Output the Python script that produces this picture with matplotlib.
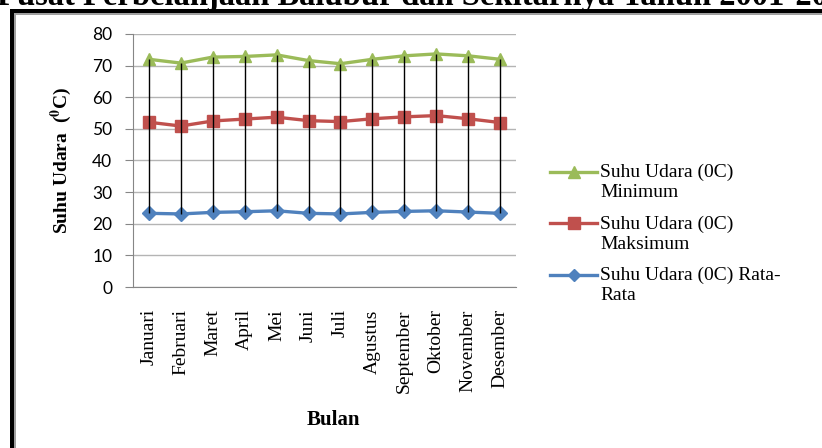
import matplotlib
matplotlib.use('Agg')
import matplotlib.pyplot as plt
from matplotlib.lines import Line2D
from matplotlib.patches import Rectangle

plt.rcParams['mathtext.fontset'] = 'stix'

# bulan dan suhu udara (nilai kumulatif seperti pada grafik garis bertumpuk)
bulan = ['Januari', 'Februari', 'Maret', 'April', 'Mei', 'Juni', 'Juli',
         'Agustus', 'September', 'Oktober', 'November', 'Desember']
rata_rata = [23.3, 23.1, 23.6, 23.8, 24.1, 23.3, 23.1, 23.6, 23.9, 24.1, 23.7, 23.3]
maksimum = [52.1, 50.9, 52.5, 53.1, 53.7, 52.6, 52.3, 53.2, 53.8, 54.2, 53.2, 52.0]
minimum = [72.0, 70.8, 72.7, 72.9, 73.4, 71.6, 70.6, 72.0, 73.1, 73.7, 73.1, 72.0]
y_ticks = [0, 10, 20, 30, 40, 50, 60, 70, 80]
legend_labels = [('Suhu Udara (0C)', 'Minimum'),
                 ('Suhu Udara (0C)', 'Maksimum'),
                 ('Suhu Udara (0C) Rata-', 'Rata')]

W, H = 822, 448
fig = plt.figure(figsize=(W / 100, H / 100), dpi=100)


def px(x, y):
    # piksel dari kiri-atas -> koordinat figure
    return x / W, (H - y) / H


# bingkai halaman
fig.add_artist(Rectangle((10 / W, -0.1), 4 / W, (H - 9) / H + 0.1, transform=fig.transFigure,
                         color='black', lw=0))
fig.add_artist(Rectangle((14 / W, -0.1), 2 / W, (H - 13) / H + 0.1, transform=fig.transFigure,
                         color='#a0a0a0', lw=0))
fig.add_artist(Rectangle((10 / W, (H - 13) / H), 1.1, 4 / H, transform=fig.transFigure,
                         color='black', lw=0))
fig.add_artist(Rectangle((14 / W, (H - 15) / H), 1.1, 2 / H, transform=fig.transFigure,
                         color='#a0a0a0', lw=0))

fig.text(*px(-3, 5), 'Pusat Perbelanjaan Balubur dan Sekitarnya Tahun 2001-2010',
         family='Liberation Serif', weight='bold', size=23.5, ha='left', va='baseline')

ax = fig.add_axes([133 / W, (H - 287) / H, 383 / W, 253 / H])
x = range(len(bulan))

garis = []
garis.append(ax.plot(x, minimum, color='#9BBB59', lw=2.4, marker='^', ms=9, zorder=3)[0])
garis.append(ax.plot(x, maksimum, color='#C0504D', lw=2.4, marker='s', ms=9, zorder=3)[0])
garis.append(ax.plot(x, rata_rata, color='#4F81BD', lw=2.4, marker='D', ms=7, zorder=3)[0])
ax.vlines(x, rata_rata, minimum, color='black', lw=1, zorder=4)

ax.set_xlim(-0.5, len(bulan) - 0.5)
ax.set_ylim(0, 80)
ax.set_yticks(y_ticks)
ax.grid(axis='y', color='#b4b4b4', lw=1)
ax.set_axisbelow(True)
for s in ['top', 'right']:
    ax.spines[s].set_visible(False)
ax.spines['left'].set_color('#868686')
ax.spines['bottom'].set_color('#868686')
ax.tick_params(axis='y', length=6, color='#868686', pad=9, labelsize=12.5)
for t in ax.get_yticklabels():
    t.set_fontfamily('Lato')
ax.set_xticks(list(x))
ax.set_xticklabels(bulan, rotation=90, family='Liberation Serif', size=14, va='top')
ax.tick_params(axis='x', length=0, pad=16)

fig.text(*px(61, 160), r'Suhu Udara  ($^{\mathbf{0}}$C)', rotation=90,
         family='Liberation Serif', weight='bold', size=14, ha='center', va='center')
fig.text(*px(333, 420), 'Bulan', family='Liberation Serif', weight='bold',
         size=15, ha='center', va='center')

# legenda disusun sendiri: kunci sejajar baris pertama teks
for i, (ln, (baris1, baris2)) in enumerate(zip(garis, legend_labels)):
    y0 = 172 + i * 51.5
    xs, ys = zip(px(550, y0), px(597, y0))
    fig.add_artist(Line2D([xs[0], xs[1]], [ys[0], ys[1]], transform=fig.transFigure,
                          color=ln.get_color(), lw=2.4))
    fig.add_artist(Line2D([(xs[0] + xs[1]) / 2], [ys[0]], transform=fig.transFigure,
                          color=ln.get_color(), marker=ln.get_marker(), ms=ln.get_markersize() - 1,
                          lw=0))
    fig.text(*px(600, y0 + 5), baris1, family='Liberation Serif', size=14, ha='left', va='baseline')
    fig.text(*px(600, y0 + 25), baris2, family='Liberation Serif', size=14, ha='left', va='baseline')

fig.savefig('out.png', dpi=100)
